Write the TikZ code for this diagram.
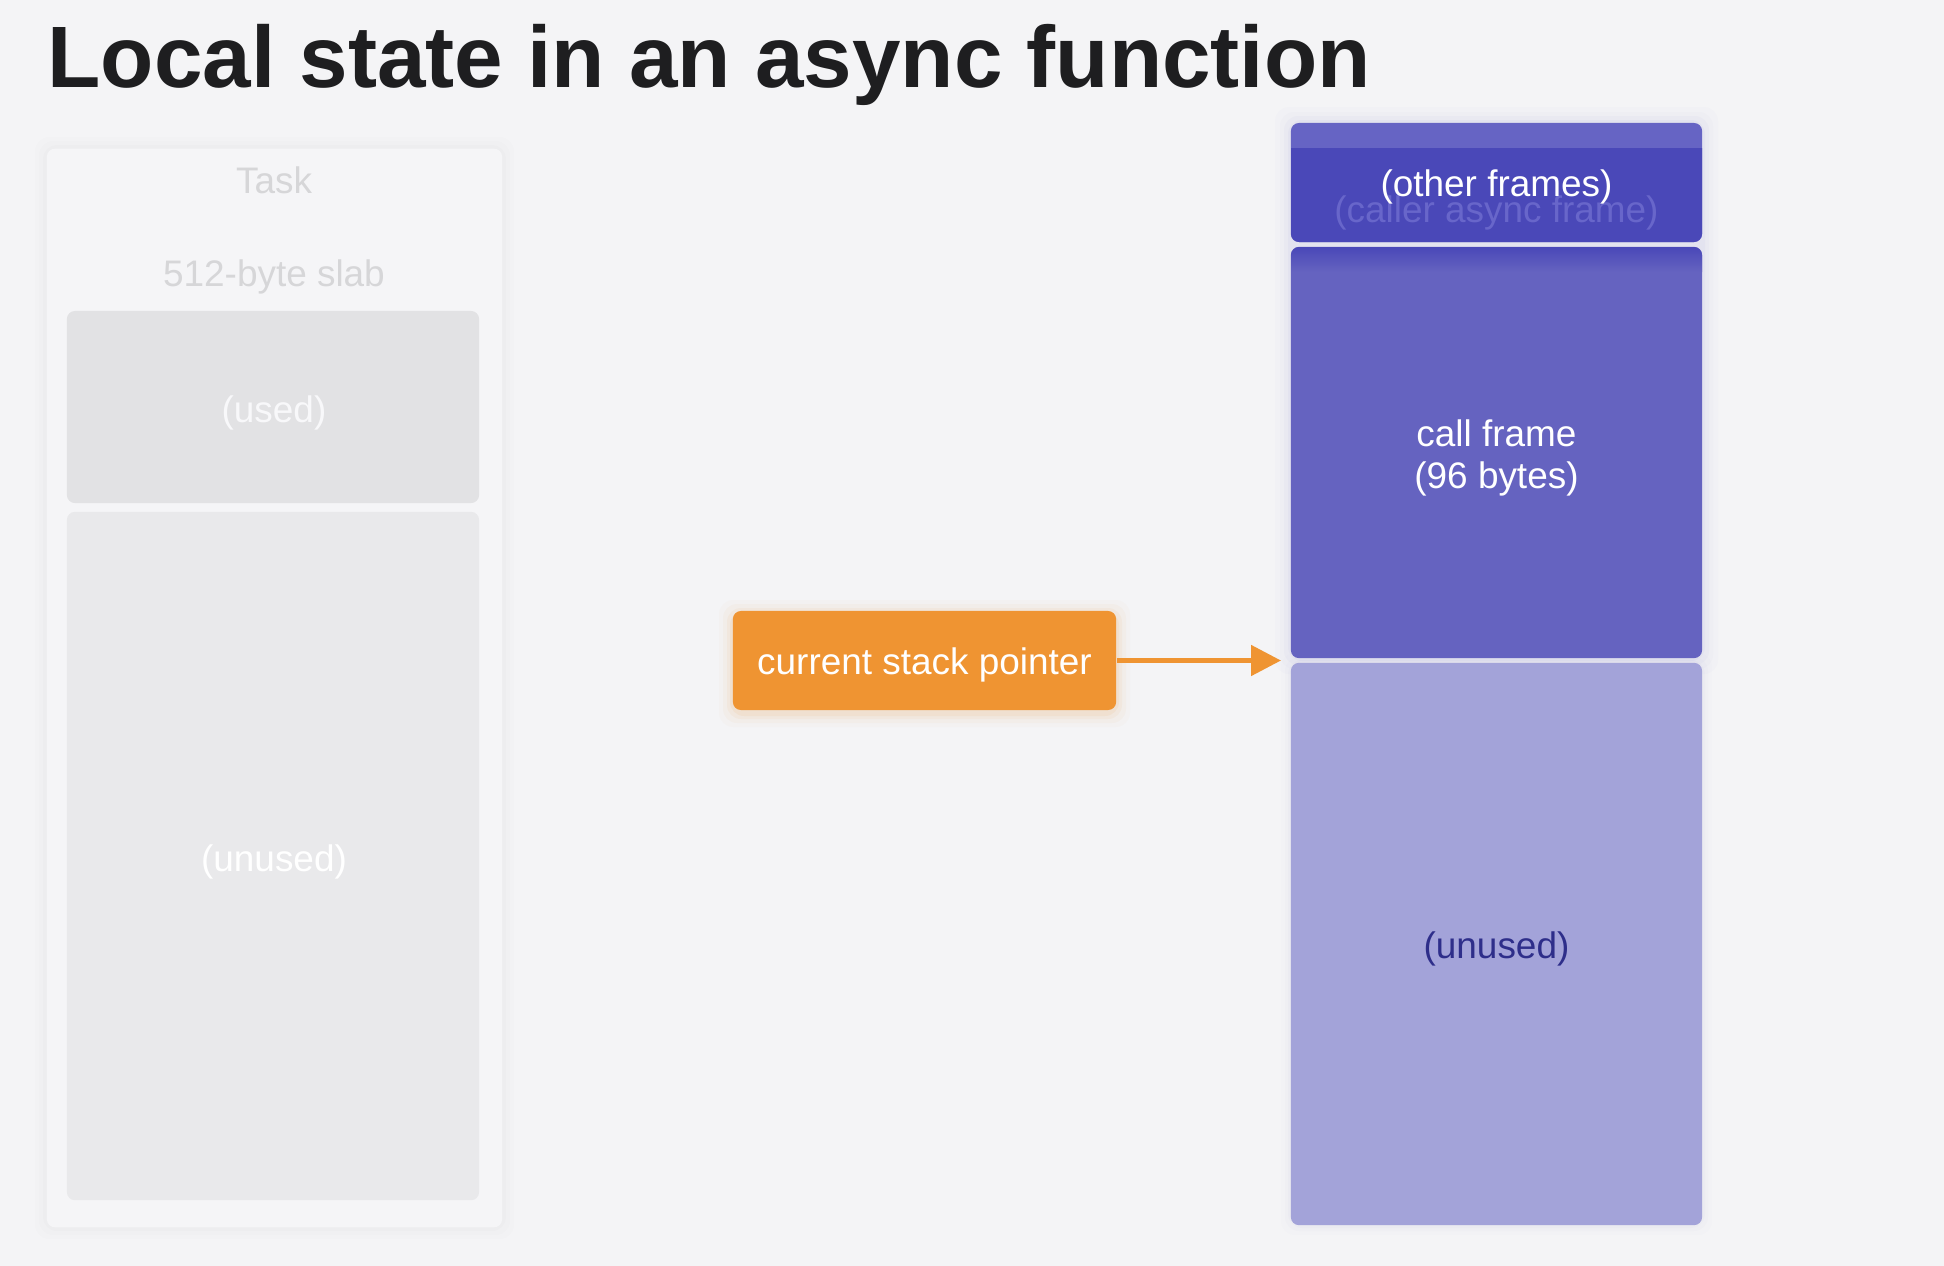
\documentclass[tikz,border=0pt]{standalone}
\usepackage{fontspec}
\setmainfont{Liberation Sans}
\usetikzlibrary{arrows.meta}
\definecolor{bg}{RGB}{244,244,246}
\definecolor{titlecol}{RGB}{30,30,32}
\definecolor{panelcol}{RGB}{245,245,247}
\definecolor{usedcol}{RGB}{226,226,228}
\definecolor{unusedgray}{RGB}{233,233,235}
\definecolor{fadetext}{RGB}{214,214,216}
\definecolor{fadewhite}{RGB}{248,248,250}
\definecolor{toplight}{RGB}{102,100,196}
\definecolor{fdark}{RGB}{74,72,184}
\definecolor{cfcol}{RGB}{101,99,192}
\definecolor{uncol}{RGB}{163,163,217}
\definecolor{untext}{RGB}{46,46,138}
\definecolor{callertext}{RGB}{104,102,202}
\definecolor{spcol}{RGB}{239,148,50}
\begin{document}
\begin{tikzpicture}[x=0.01cm,y=-0.01cm,
  box/.style={rectangle, rounded corners=2.3pt, inner sep=0pt, draw=none},
  lbl/.style={font=\fontsize{10.5}{11.8}\selectfont, align=center, inner sep=0pt},
  ptr/.style={draw=spcol, line width=1.4pt, -{Triangle[length=8.5pt,width=8.5pt]}}]
\useasboundingbox (0,0) rectangle (1944,1266);
\fill[bg] (0,0) rectangle (1944,1266);

% title
\node[anchor=base west, inner sep=0pt, text=titlecol,
  font=\bfseries\fontsize{24.8}{28}\selectfont] (title) at (47,87) {Local state in an async function};

% left faded panel
\foreach \r/\o in {12/0.006,8/0.008,4/0.010}
  \fill[black, opacity=\o, rounded corners=4pt] (47-\r,149-\r) rectangle (502+\r,1227+\r);
\node[box, fill=panelcol, minimum width=4.55cm, minimum height=10.78cm] (task) at (274.5,688) {};
\node[lbl, text=fadetext] (tasklbl) at (274,180) {Task};
\node[lbl, text=fadetext] (slablbl) at (274,277) {512-byte slab};
\node[box, fill=usedcol, minimum width=4.12cm, minimum height=1.92cm] (used) at (273,407) {};
\node[lbl, text=fadewhite] (usedlbl) at (274,413) {(used)};
\node[box, fill=unusedgray, minimum width=4.12cm, minimum height=6.88cm] (lunused) at (273,856) {};
\node[lbl, text=white] (lunusedlbl) at (274,862) {(unused)};

% right stack glow
\foreach \r/\o in {16/0.015,11/0.02,7/0.03,3/0.04}
  \fill[cfcol, opacity=\o, rounded corners=4pt] (1291-\r,123-\r) rectangle (1702+\r,658+\r);
\foreach \r/\o in {10/0.012,6/0.018,3/0.025}
  \fill[cfcol, opacity=\o, rounded corners=4pt] (1291-\r,663-\r) rectangle (1702+\r,1225+\r);

% other frames box
\node[box, fill=toplight, minimum width=4.11cm, minimum height=1.19cm] (other) at (1496.5,182.5) {};
\fill[fdark] (1291,148) -- (1702,148) [rounded corners=2.3pt] -- (1702,242) -- (1291,242) [sharp corners] -- cycle;
\node[lbl, text=callertext] (caller) at (1496.5,213) {(caller async frame)};
\node[lbl, text=white] (otherlbl) at (1496.5,187) {(other frames)};

% call frame
\node[box, fill=cfcol, minimum width=4.11cm, minimum height=4.11cm] (cf) at (1496.5,452.5) {};
\shade[top color=fdark, bottom color=cfcol] (1291,272) [rounded corners=2.3pt] -- (1291,247) -- (1702,247) [sharp corners] -- (1702,272) -- cycle;
\node[lbl, text=white] (cflbl) at (1496.5,458) {call frame\\(96 bytes)};

% unused
\node[box, fill=uncol, minimum width=4.11cm, minimum height=5.62cm] (un) at (1496.5,944) {};
\node[lbl, text=untext] (unlbl) at (1496.5,949) {(unused)};

% stack pointer
\foreach \r/\o in {14/0.025,10/0.04,6/0.06,3/0.08}
  \fill[spcol, opacity=\o, rounded corners=4pt] (733-\r,611-\r+3) rectangle (1116+\r,710+\r+3);
\node[box, fill=spcol, minimum width=3.83cm, minimum height=0.99cm] (sp) at (924.5,660.5) {};
\node[lbl, text=white] (splbl) at (924.5,665) {current stack pointer};
\coordinate (tip) at (1281,660.5);
\draw[ptr] (sp.east) -- (tip);
\end{tikzpicture}
\end{document}
